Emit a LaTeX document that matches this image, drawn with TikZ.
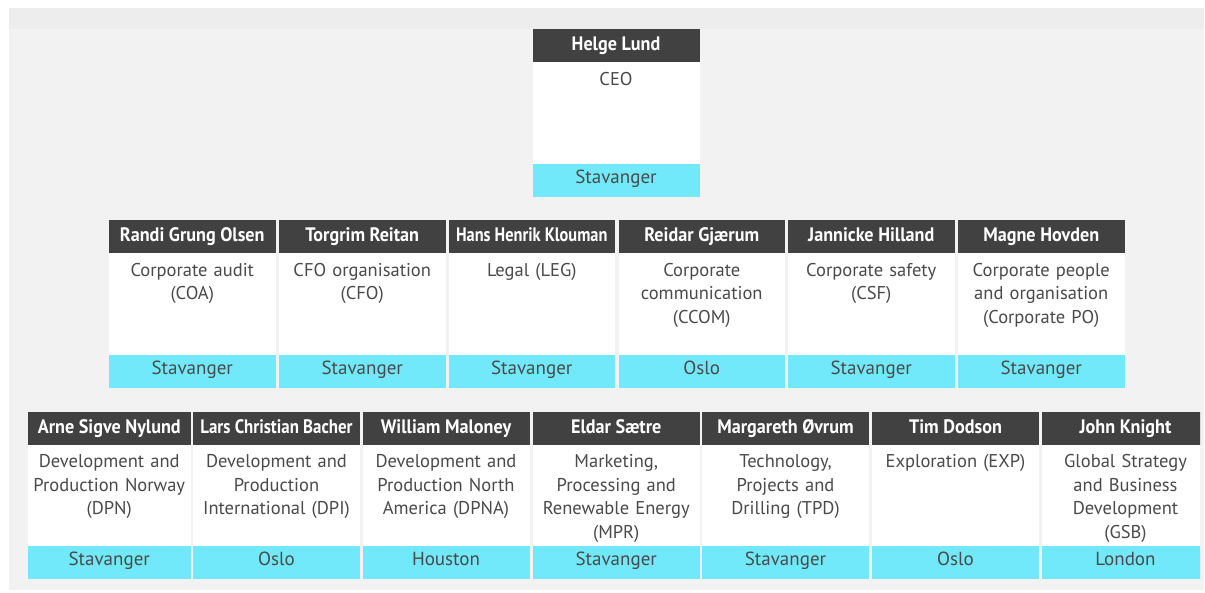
\documentclass[tikz,border=0pt]{standalone}
\usepackage{fontspec}
\setmainfont{PT Sans}
\newfontfamily\hdrfont{PT Sans}[FakeStretch=0.93]
\newfontfamily\bodyfont{PT Sans}
\definecolor{hdrdark}{HTML}{414141}
\definecolor{loccyan}{HTML}{72E9FA}
\definecolor{txtgray}{HTML}{4A4A4A}
\definecolor{bgmain}{HTML}{F2F2F2}
\definecolor{bgtop}{HTML}{EDEDED}
\tikzset{
  hdr/.style={fill=hdrdark, text=white, inner sep=0pt, outer sep=0pt, minimum height=33pt,
    text height=14pt, text depth=4pt,
    font=\hdrfont\bfseries\fontsize{19.5}{22}\selectfont},
  bodybox/.style={fill=white, inner sep=0pt, outer sep=0pt},
  bodytxt/.style={inner sep=0pt, outer sep=0pt, align=center, text=txtgray,
    font=\bodyfont\fontsize{18.5}{23.5}\selectfont},
  loc/.style={fill=loccyan, text=txtgray, inner sep=0pt, outer sep=0pt, minimum height=33pt,
    text height=13.5pt, text depth=4.5pt,
    font=\bodyfont\fontsize{19}{22}\selectfont},
}
% #1 id, #2 left x, #3 width, #4 header top y, #5 body height, #6 name, #7 body, #8 location
\newcommand\orgunit[8]{%
  \node[hdr, minimum width=#3pt, anchor=north west] (#1-h) at (#2,#4) {#6};
  \node[bodybox, minimum width=#3pt, minimum height=#5pt, anchor=north west] (#1-b) at (#1-h.south west) {};
  \node[loc, minimum width=#3pt, anchor=north west] (#1-l) at (#1-b.south west) {\raisebox{1.5pt}{#8}};
  \node[bodytxt, text width=#3pt, anchor=north] (#1-t) at ([yshift=-7pt]#1-b.north) {\strut #7};
}
\begin{document}
\begin{tikzpicture}[x=1pt,y=-1pt]
\useasboundingbox (0,0) rectangle (1205,592);
\fill[bgmain] (9,8) rectangle (1204,590);
\fill[bgtop] (9,8) rectangle (1204,29);
% CEO
\orgunit{ceo}{532.5}{167}{29}{102}{Helge Lund}{CEO}{Stavanger}
% row 2
\orgunit{coa}{109}{166.5}{220}{102}{Randi Grung Olsen}{Corporate audit\\(COA)}{Stavanger}
\orgunit{cfo}{279}{166.5}{220}{102}{Torgrim Reitan}{CFO organisation\\(CFO)}{Stavanger}
\orgunit{leg}{448.5}{166.5}{220}{102}{\scalebox{0.9}[1]{Hans Henrik Klouman}}{Legal (LEG)}{Stavanger}
\orgunit{ccom}{618.5}{166.5}{220}{102}{Reidar Gjærum}{Corporate\\communication\\(CCOM)}{Oslo}
\orgunit{csf}{788}{166.5}{220}{102}{Jannicke Hilland}{Corporate safety\\(CSF)}{Stavanger}
\orgunit{cpo}{958}{166.5}{220}{102}{Magne Hovden}{Corporate people\\and organisation\\(Corporate PO)}{Stavanger}
% row 3
\orgunit{dpn}{28}{162.5}{411.5}{101.5}{Arne Sigve Nylund}{Development and\\Production Norway\\(DPN)}{Stavanger}
\orgunit{dpi}{193}{167}{411.5}{101.5}{\scalebox{0.93}[1]{Lars Christian Bacher}}{Development and\\Production\\International (DPI)}{Oslo}
\orgunit{dpna}{362.5}{167}{411.5}{101.5}{William Maloney}{Development and\\Production North\\America (DPNA)}{Houston}
\orgunit{mpr}{533}{166.5}{411.5}{101.5}{Eldar Sætre}{Marketing,\\Processing and\\Renewable Energy\\(MPR)}{Stavanger}
\orgunit{tpd}{702}{167}{411.5}{101.5}{Margareth Øvrum}{Technology,\\Projects and\\Drilling (TPD)}{Stavanger}
\orgunit{exp}{872}{167}{411.5}{101.5}{Tim Dodson}{Exploration (EXP)}{Oslo}
\begin{scope}
\clip (9,0) rectangle (1200,592);
\orgunit{gsb}{1042}{167}{411.5}{101.5}{John Knight}{Global Strategy\\and Business\\Development\\(GSB)}{London}
\end{scope}
\end{tikzpicture}
\end{document}
